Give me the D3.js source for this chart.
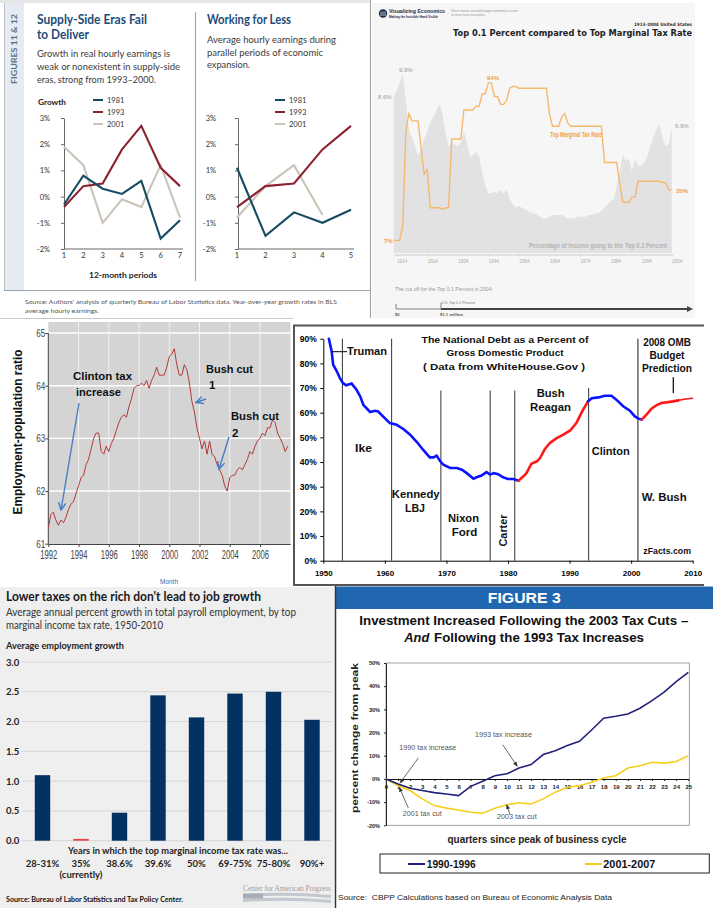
<!DOCTYPE html>
<html lang="en">
<head>
<meta charset="utf-8">
<title>Taxes, wages, jobs and debt</title>
<style>
  body { margin: 0; background: #fff; }
  svg { display: block; }
</style>
<script src="https://cdn.jsdelivr.net/npm/d3@7"></script>
</head>
<body>
<script>
// ---------- data ----------
// figures 11 & 12: real hourly earnings growth (%)
const growthTicks = [-2, -1, 0, 1, 2, 3];
const eraNames = ["1981", "1993", "2001"];
const periods11 = [1, 2, 3, 4, 5, 6, 7];
const earn11_1981 = [-0.3, 0.8, 0.3, 0.1, 0.6, -1.6, -0.9];
const earn11_1993 = [-0.4, 0.4, 0.5, 1.8, 2.7, 1.1, 0.4];
const earn11_2001 = [1.9, 1.2, -1.0, -0.1, -0.4, 1.2, -0.8];
const periods12 = [1, 2, 3, 4, 5];
const earn12_1981 = [1.1, -1.5, -0.6, -1.0, -0.5];
const earn12_1993 = [-0.4, 0.4, 0.5, 1.8, 2.7];
const earn12_2001 = [-0.8, 0.4, 1.2, -0.7];

// top 0.1 percent income share vs top marginal rate, 1913-2004
const shareYears = d3.range(1913, 2005);
const shareValues = [
  8.6, 9.0, 9.4, 9.9, 8.5, 6.8, 6.4,
  5.9, 5.4, 5.7, 6.3, 6.7, 7.2, 7.5, 7.9, 8.2, 7.7,
  6.6, 5.9, 6.1, 6.0, 5.9, 6.1, 6.7, 6.1, 5.3, 5.4,
  5.6, 5.3, 4.4, 3.7, 3.3, 3.3, 3.4, 3.3, 3.5, 3.3,
  3.5, 3.0, 2.7, 2.5, 2.6, 2.5, 2.4, 2.3, 2.2, 2.2,
  2.1, 2.0, 1.9, 1.9, 2.0, 2.1, 2.1, 2.1, 2.1, 2.0,
  1.9, 1.9, 1.9, 2.0, 2.0, 2.0, 2.0, 2.1, 2.1, 2.2,
  2.2, 2.3, 2.5, 2.7, 2.9, 2.9, 3.7, 4.5, 5.4, 5.1,
  5.2, 4.5, 5.2, 4.8, 4.8, 5.0, 5.3, 5.9, 6.4, 6.8,
  7.1, 6.4, 5.9, 6.0, 6.9
];
const taxYears = d3.range(1913, 2005);
const taxRates = [
  7, 7, 7, 15, 67, 77, 73,
  73, 73, 58, 43.5, 46, 25, 25, 25, 25, 24,
  25, 25, 63, 63, 63, 63, 79, 79, 79, 79,
  81.1, 81, 88, 88, 94, 94, 86.45, 86.45, 82.13, 82.13,
  84.36, 91, 92, 92, 91, 91, 91, 91, 91, 91,
  91, 91, 91, 91, 77, 70, 70, 70, 75.25, 77,
  71.75, 70, 70, 70, 70, 70, 70, 70, 70, 70,
  70, 70, 50, 50, 50, 50, 50, 38.5, 28, 28,
  28, 31, 31, 39.6, 39.6, 39.6, 39.6, 39.6, 39.6, 39.6,
  39.6, 39.1, 38.6, 35, 35
];
const decadeTicks = [1914, 1924, 1934, 1944, 1954, 1964, 1974, 1984, 1994, 2004];

// employment-population ratio, every two months from Jan 1992
const empStartYear = 1992;
const empValues = [
  61.3, 61.55, 61.6, 61.45, 61.35, 61.45,
  61.4, 61.5, 61.65, 61.75, 61.8, 61.95,
  62.1, 62.25, 62.3, 62.5, 62.6, 62.8,
  63.0, 63.1, 63.1, 62.75, 62.7, 62.85,
  62.75, 62.9, 63.0, 63.15, 63.3, 63.4,
  63.45, 63.4, 63.6, 63.75, 63.95, 64.0,
  64.0, 64.05, 64.0, 64.1, 63.95, 64.1,
  64.2, 64.35, 64.2, 64.2, 64.2, 64.35,
  64.55, 64.6, 64.7, 64.4, 64.2, 64.2,
  64.4, 64.3, 64.05, 63.7, 63.5, 63.2,
  63.0, 62.8, 62.95, 62.7, 62.95, 62.7,
  62.65, 62.5, 62.4, 62.3, 62.1, 62.0,
  62.25, 62.3, 62.3, 62.4, 62.45, 62.4,
  62.5, 62.6, 62.75, 62.7, 62.85, 62.95,
  63.0, 63.1, 63.05, 63.2, 63.2, 63.35,
  63.3, 63.1, 63.0, 62.9, 62.75, 62.85
];
const empYearTicks = [1992, 1994, 1996, 1998, 2000, 2002, 2004, 2006];
const empRatioTicks = [61, 62, 63, 64, 65];

// national debt as % of GDP
const debtYears = [1950.9, 1951.35, 1951.6, 1952.2, 1952.7, 1953.2, 1953.7, 1954.6, 1955.4, 1956,
  1956.5, 1957.6, 1958.4, 1958.9, 1959.7, 1960.8, 1961.9, 1963, 1964.1, 1965.2, 1966.2, 1967.3,
  1967.9, 1968.4, 1969, 1969.5, 1970.6, 1971.7, 1972.5, 1973.3, 1974.4, 1974.9, 1975.7, 1976.5,
  1977.1, 1977.7, 1978.4, 1979.2, 1980, 1980.9, 1981.7, 1982.5, 1983, 1983.8, 1984.7, 1985.2,
  1986, 1986.8, 1987.9, 1989, 1990.1, 1991.1, 1991.7, 1992.2, 1993, 1993.6, 1994.7, 1995.7,
  1996.8, 1997.6, 1998.7, 1999.8, 2000.6, 2001.2, 2001.7, 2002.5, 2003.3, 2004.1, 2004.9, 2006,
  2006.8, 2007.7, 2008.7, 2010];
const debtValues = [90, 85, 79.5, 76.8, 74, 72, 71.1, 71.8, 69.3, 66.6,
  63.2, 60.3, 60.8, 60.5, 58.5, 55.8, 55.1, 53.4, 51.1, 48.1, 45, 41.9,
  41.9, 42.6, 40.3, 38.9, 37.6, 37.6, 36.9, 35.5, 33.2, 33.8, 34.5, 35.9,
  34.9, 35.5, 35.1, 33.8, 33.1, 33.1, 32.4, 34.2, 35.5, 39.3, 40.3, 41.6,
  45.3, 47.7, 49.7, 51.1, 52.8, 55.8, 58.8, 61.2, 64.6, 65.9, 66.2, 66.9,
  66.9, 65.3, 62.6, 60.8, 58.5, 57.6, 57.2, 59.2, 61.6, 63, 63.9, 64.3,
  64.6, 65, 65.5, 65.9];
const termYears = [1953.1, 1961.1, 1969.1, 1977.1, 1981.1, 1993.1, 2001.1];
const partyStarts = [1950, 1981.7, 1993, 2001.7, 2007.7];
const partyEnds = [1981.7, 1993, 2001.7, 2007.7, 2010];
const partyNames = ["D", "R", "D", "R", "OMB"];
const debtTicks = [0, 10, 20, 30, 40, 50, 60, 70, 80, 90];
const debtYearTicks = [1950, 1960, 1970, 1980, 1990, 2000, 2010];

// job growth by top marginal tax rate
const taxBrackets = ["28-31%", "35%", "38.6%", "39.6%", "50%", "69-75%", "75-80%", "90%+"];
const jobGrowth = [1.1, 0.03, 0.47, 2.44, 2.07, 2.47, 2.5, 2.03];
const jobTicks = [0, 0.5, 1, 1.5, 2, 2.5, 3];

// investment, % change from business-cycle peak
const quarters = d3.range(0, 26);
const invest1990 = [0, -2.2, -4, -5, -5.9, -6.5, -7.2, -3.2, -1.0, 1.4, 2.2, 4.7, 6.2,
  10.5, 12.2, 14.4, 16.2, 21.1, 26.2, 27, 28, 30.5, 33.8, 37.4, 42, 46];
const invest2001 = [0, -2.9, -5, -8.6, -11.5, -12.6, -13.4, -14.4, -14.8, -12.6, -11.1, -10.3, -10.8,
  -8.6, -5.7, -3.6, -2.9, -1.4, 0.4, 1.4, 4.7, 5.7, 7.2, 6.8, 7.5, 10];
const investTicks = [-20, -10, 0, 10, 20, 30, 40, 50];

// ---------- helpers ----------
const sans = "'Liberation Sans', Arial, sans-serif";
const narrow = "'Liberation Sans Narrow', 'Liberation Sans', sans-serif";
const human = "Lato, 'Open Sans', sans-serif";
const verd = "'DejaVu Sans', Verdana, sans-serif";
const serif = "'Liberation Serif', 'DejaVu Serif', serif";

const svg = d3.select("body").append("svg").attr("width", 713).attr("height", 908);
svg.append("rect").attr("width", 713).attr("height", 908).attr("fill", "#fff");
const defs = svg.append("defs");

function marker(id, color, size, filled) {
  defs.append("marker").attr("id", id).attr("viewBox", "0 0 10 10")
    .attr("refX", 9).attr("refY", 5).attr("markerWidth", size).attr("markerHeight", size)
    .attr("markerUnits", "userSpaceOnUse").attr("orient", "auto")
    .append("path").attr("d", filled ? "M0,1 L10,5 L0,9 Z" : "M1,1 L9,5 L1,9")
    .attr("fill", filled ? color : "none").attr("stroke", filled ? "none" : color)
    .attr("stroke-width", 1.7);
}
marker("blueArrow", "#4a7fc4", 9, false);
marker("grayArrow", "#333", 5, true);

function label(g, s, x, y, o = {}) {
  const t = g.append("text").attr("x", x).attr("y", y).text(s)
    .attr("font-family", o.font || sans).attr("font-size", o.size || 10)
    .attr("font-weight", o.weight || "normal").attr("fill", o.fill || "#222")
    .attr("text-anchor", o.anchor || "start");
  if (o.w) t.attr("textLength", o.w).attr("lengthAdjust", "spacingAndGlyphs");
  if (o.rotate) t.attr("transform", `rotate(${o.rotate},${x},${y})`);
  if (o.italic) t.attr("font-style", "italic");
  return t;
}

function line(g, x1, y1, x2, y2, color, width) {
  return g.append("line").attr("x1", x1).attr("y1", y1).attr("x2", x2).attr("y2", y2)
    .attr("stroke", color).attr("stroke-width", width || 1);
}

function styleAxis(g, o) {
  g.attr("font-family", o.font).attr("font-size", o.size).attr("font-weight", o.weight || "normal");
  g.select(".domain").attr("stroke", o.line || "#000");
  g.selectAll(".tick line").attr("stroke", o.line || "#000");
  g.selectAll("text").attr("fill", o.fill || "#000");
  if (o.w) g.selectAll("text").attr("textLength", o.w).attr("lengthAdjust", "spacingAndGlyphs");
}

// ---------- panel 1: figures 11 & 12 ----------
const p1 = svg.append("g");
p1.append("rect").attr("x", 0).attr("y", 0).attr("width", 371).attr("height", 3).attr("fill", "#e6e6e6");
p1.append("rect").attr("x", 5).attr("y", 3).attr("width", 19).attr("height", 287).attr("fill", "#e6ebf1");
line(p1, 4.5, 3, 4.5, 290, "#b9c0c8");
line(p1, 4, 290.5, 371, 290.5, "#9aa4ad");
line(p1, 370.5, 0, 370.5, 318, "#a0a0a0");
line(p1, 0, 318.5, 293, 318.5, "#c8c8c8");
line(p1, 195.5, 12, 195.5, 281, "#a8a8a8", 1.2);
label(p1, "FIGURES 11 & 12", 16.5, 49, { font: human, size: 7, weight: "bold", fill: "#56718c", anchor: "middle", rotate: -90, w: 70 });

const titleBlue = "#1d4d78";
label(p1, "Supply-Side Eras Fail", 37, 24, { font: human, size: 12.5, weight: "bold", fill: titleBlue, w: 110 });
label(p1, "to Deliver", 37, 39, { font: human, size: 12.5, weight: "bold", fill: titleBlue, w: 52 });
label(p1, "Growth in real hourly earnings is", 37, 57, { font: human, size: 9.5, fill: "#3a3a3a", w: 133 });
label(p1, "weak or nonexistent in supply-side", 37, 70, { font: human, size: 9.5, fill: "#3a3a3a", w: 143 });
label(p1, "eras, strong from 1993\u20132000.", 37, 83, { font: human, size: 9.5, fill: "#3a3a3a", w: 119 });
label(p1, "Working for Less", 207, 24, { font: human, size: 12.5, weight: "bold", fill: titleBlue, w: 84 });
label(p1, "Average hourly earnings during", 207, 43, { font: human, size: 9.5, fill: "#3a3a3a", w: 129 });
label(p1, "parallel periods of economic", 207, 56, { font: human, size: 9.5, fill: "#3a3a3a", w: 116 });
label(p1, "expansion.", 207, 68, { font: human, size: 9.5, fill: "#3a3a3a", w: 43 });
label(p1, "Growth", 38, 105, { font: human, size: 7.5, weight: "bold", fill: "#222", w: 28 });
label(p1, "12-month periods", 89, 278, { font: human, size: 8, weight: "bold", fill: "#222", w: 68 });
label(p1, "Source: Authors\u2019 analysis of quarterly Bureau of Labor Statistics data. Year-over-year growth rates in BLS",
  25, 304, { font: human, size: 6.5, fill: "#555", w: 312 });
label(p1, "average hourly earnings.", 25, 313, { font: human, size: 6.5, fill: "#555", w: 74 });

const eraColors = ["#174b64", "#8c2331", "#cbc4b9"];

function earnChart(periods, series, xRange, axisX, labelRight, legendX) {
  const g = p1.append("g");
  const x = d3.scaleLinear().domain([1, periods[periods.length - 1]]).range(xRange);
  const y = d3.scaleLinear().domain([-2, 3]).range([249, 118]);
  const ya = g.append("g").attr("transform", `translate(${axisX},0)`)
    .call(d3.axisLeft(y).tickValues(growthTicks).tickSize(3).tickSizeOuter(0)
      .tickPadding(axisX - labelRight - 3).tickFormat(d => d + "%"));
  styleAxis(ya, { font: human, size: 7.5, line: "#666", fill: "#333" });
  line(g, axisX, y(-2), xRange[1] + 3, y(-2), "#666");
  g.selectAll(null).data(periods).enter().append("text")
    .attr("x", d => x(d)).attr("y", 258).attr("text-anchor", "middle")
    .attr("font-family", human).attr("font-size", 7.5).attr("fill", "#333").text(d => d);
  // draw the pale series first so the dark ones sit on top
  [2, 1, 0].forEach(i => {
    g.append("path").datum(series[i])
      .attr("d", d3.line().x((d, j) => x(periods[j])).y(d => y(d)))
      .attr("fill", "none").attr("stroke", eraColors[i]).attr("stroke-width", 2.1)
      .attr("stroke-linejoin", "miter");
  });
  eraNames.forEach((n, i) => {
    line(g, legendX, 100 + i * 12, legendX + 10, 100 + i * 12, eraColors[i], 2);
    label(g, n, legendX + 14, 103 + i * 12, { font: human, size: 7.5, fill: "#333" });
  });
}
earnChart(periods11, [earn11_1981, earn11_1993, earn11_2001], [64, 180], 64, 50, 93);
earnChart(periods12, [earn12_1981, earn12_1993, earn12_2001], [237, 351], 238, 216, 275);

// ---------- panel 2: top 0.1 percent vs top marginal tax rate ----------
const p2 = svg.append("g");
p2.append("rect").attr("x", 372).attr("y", 3).attr("width", 323).attr("height", 315).attr("fill", "#f6f6f6");
p2.append("circle").attr("cx", 383).attr("cy", 13.5).attr("r", 4.2).attr("fill", "#1d2b4c");
[381, 383, 385].forEach(cx => line(p2, cx, 11.5, cx, 16, "#fff", 0.7));
label(p2, "Visualizing Economics", 389, 13, { size: 5.5, weight: "bold", fill: "#1d2b4c", w: 56 });
label(p2, "Making the Invisible Hand Visible", 389, 17.5, { size: 3.6, weight: "bold", fill: "#1d2b4c", w: 49 });
label(p2, "Visit www.visualizingeconomics.com", 451, 12, { size: 4, fill: "#999", w: 67 });
label(p2, "to view more examples", 451, 16.3, { size: 4, fill: "#999", w: 34 });
label(p2, "1913-2004 United States", 692, 25.5, { font: verd, size: 4.5, weight: "bold", fill: "#333", anchor: "end", w: 58 });
label(p2, "Top 0.1 Percent compared to Top Marginal Tax Rate", 692, 36,
  { font: verd, size: 9, weight: "bold", fill: "#222", anchor: "end", w: 239 });

const xT = d3.scaleLinear().domain([1913, 2004]).range([393.6, 671.7]);
const yShare = d3.scaleLinear().domain([0, 10]).range([253, 72]);
const yRate = d3.scaleLinear().domain([0, 100]).range([253, 72]);
p2.append("path").datum(shareValues)
  .attr("d", d3.area().x((d, i) => xT(shareYears[i])).y0(yShare(0)).y1(d => yShare(d)))
  .attr("fill", "#e2e2e2");
p2.append("path").datum(taxRates)
  .attr("d", d3.line().x((d, i) => xT(taxYears[i])).y(d => yRate(d)))
  .attr("fill", "none").attr("stroke", "#f7b86e").attr("stroke-width", 1.4);

const xTa = p2.append("g").attr("transform", "translate(0,254.5)")
  .call(d3.axisBottom(xT).tickValues(decadeTicks).tickSize(2).tickSizeOuter(0).tickPadding(3).tickFormat(d3.format("d")));
styleAxis(xTa, { font: sans, size: 4.5, line: "#ccc", fill: "#aaa" });
xTa.selectAll("text").attr("text-anchor", "start");

label(p2, "9.9%", 399, 71.7, { font: narrow, size: 6, fill: "#999" });
label(p2, "8.6%", 378, 99, { font: narrow, size: 6, fill: "#999" });
label(p2, "6.9%", 675, 128.3, { font: narrow, size: 6, fill: "#999" });
label(p2, "94%", 487, 80, { font: narrow, size: 6, weight: "bold", fill: "#f2a040" });
label(p2, "7%", 384, 243.3, { font: narrow, size: 6, weight: "bold", fill: "#f2a040" });
label(p2, "35%", 676, 193.3, { font: narrow, size: 6, weight: "bold", fill: "#f2a040" });
label(p2, "Top Marginal Tax Rate", 550, 137, { font: narrow, size: 6.5, weight: "bold", fill: "#f2a040", w: 52 });
label(p2, "Percentage of Income going to the Top 0.1 Percent", 667, 248,
  { font: narrow, size: 7.5, weight: "bold", fill: "#b3b3b3", anchor: "end", w: 138 });

label(p2, "The cut off for the Top 0.1 Percent in 2004:", 395, 291, { size: 5, fill: "#999", w: 98 });
const xCut = d3.scaleLinear().domain([0, 1.1]).range([396, 441]);
line(p2, xCut(0), 309, xCut(1.1), 309, "#666", 0.8);
line(p2, xCut(1.1), 309, 689, 309, "#444", 2.2);
p2.append("path").attr("d", "M687,306 L693,309 L687,312 Z").attr("fill", "#444");
line(p2, xCut(0), 304, xCut(0), 309, "#666", 0.8);
line(p2, xCut(1.1), 303, xCut(1.1), 309, "#666", 0.8);
label(p2, "U.S. Top 0.1 Percent", 441, 304, { size: 3.8, fill: "#777", w: 34 });
label(p2, "$0", 395, 316, { size: 4, weight: "bold", fill: "#555" });
label(p2, "$1.1 million", 440, 316, { size: 4, weight: "bold", fill: "#555", w: 23 });

// ---------- panel 3: employment-population ratio ----------
const p3 = svg.append("g");
const xE = d3.scaleLinear().domain([1992, 2008]).range([48.3, 290.2]);
const yE = d3.scaleLinear().domain([61, 65]).range([543.7, 333]);
p3.append("rect").attr("x", xE(1992)).attr("y", 322).attr("width", 290.5 - xE(1992)).attr("height", 222)
  .attr("fill", "#d4d4d4");
empRatioTicks.slice(1).forEach(v => line(p3, xE(1992), yE(v), 290.5, yE(v), "#fff", 1.4));
empYearTicks.slice(1).forEach(v => line(p3, xE(v), 322, xE(v), 544, "#f4f4f4", 0.9));

const yEa = p3.append("g").attr("transform", `translate(${xE(1992)},0)`)
  .call(d3.axisLeft(yE).tickValues(empRatioTicks).tickSize(3).tickSizeOuter(0).tickPadding(0).tickFormat(d3.format("d")));
yEa.select(".domain").attr("d", `M0,${yE(65)}V544`);
styleAxis(yEa, { font: narrow, size: 10.5, line: "#444", fill: "#444", w: 9 });
const xEa = p3.append("g").attr("transform", "translate(0,544)")
  .call(d3.axisBottom(xE).tickValues(empYearTicks).tickSize(3).tickSizeOuter(0).tickPadding(3).tickFormat(d3.format("d")));
styleAxis(xEa, { font: narrow, size: 12.5, line: "#444", fill: "#444", w: 17 });

p3.append("path").datum(empValues)
  .attr("d", d3.line().x((d, i) => xE(empStartYear + i / 6)).y(d => yE(d)))
  .attr("fill", "none").attr("stroke", "#b03a3a").attr("stroke-width", 1);

label(p3, "Employment-population ratio", 21.5, 432, { size: 12.5, weight: "bold", fill: "#111", anchor: "middle", rotate: -90, w: 165 });
label(p3, "Month", 160, 584, { font: narrow, size: 8, fill: "#3a6db5", w: 18 });
label(p3, "Clinton tax", 73, 380, { size: 11.5, weight: "bold", fill: "#111", w: 59 });
label(p3, "increase", 76, 396, { size: 11.5, weight: "bold", fill: "#111", w: 45 });
label(p3, "Bush cut", 206, 373, { size: 11.5, weight: "bold", fill: "#111", w: 47 });
label(p3, "1", 209, 389, { size: 11.5, weight: "bold", fill: "#111" });
label(p3, "Bush cut", 231, 420, { size: 11.5, weight: "bold", fill: "#111", w: 48 });
label(p3, "2", 232, 437, { size: 11.5, weight: "bold", fill: "#111" });
line(p3, 79, 403, 61, 510, "#4a7fc4", 1.4).attr("marker-end", "url(#blueArrow)");
line(p3, 206, 399, 196, 402.5, "#4a7fc4", 1.4).attr("marker-end", "url(#blueArrow)");
line(p3, 229, 437, 219, 469, "#4a7fc4", 1.4).attr("marker-end", "url(#blueArrow)");

// ---------- panel 4: national debt ----------
const p4 = svg.append("g");
const xD = d3.scaleLinear().domain([1950, 2010]).range([323.3, 692.7]);
const yD = d3.scaleLinear().domain([0, 90]).range([560.7, 338.7]);
line(p4, 293, 325.5, 704, 325.5, "#555", 2);
line(p4, 294, 325, 294, 586, "#555", 2);
line(p4, 293, 585, 704, 585, "#555", 2);

// term lines under the title stop short of the top
const termTops = [90, 90, 69, 69, 69, 70, 90];
termYears.forEach((t, i) => {
  const last = i === termYears.length - 1;
  line(p4, xD(t), yD(termTops[i]), xD(t), yD(0), last ? "#666" : "#333", last ? 1.5 : 1);
});

const yDa = p4.append("g").attr("transform", `translate(${xD(1950)},0)`)
  .call(d3.axisLeft(yD).tickValues(debtTicks).tickSize(3).tickSizeOuter(0).tickPadding(3.6).tickFormat(d => d + "%"));
styleAxis(yDa, { font: sans, size: 8.5, weight: "bold", line: "#000", fill: "#000" });
const xDa = p4.append("g").attr("transform", `translate(0,${yD(0)})`)
  .call(d3.axisBottom(xD).tickValues(debtYearTicks).tickSize(3).tickSizeOuter(0).tickPadding(7).tickFormat(d3.format("d")));
styleAxis(xDa, { font: sans, size: 8, weight: "bold", line: "#000", fill: "#000" });

partyNames.forEach((p, k) => {
  const pts = debtYears.map((yr, i) => [yr, debtValues[i]])
    .filter(d => d[0] >= partyStarts[k] && d[0] <= partyEnds[k]);
  p4.append("path").datum(pts)
    .attr("d", d3.line().x(d => xD(d[0])).y(d => yD(d[1])))
    .attr("fill", "none").attr("stroke", p === "D" ? "#0a14ff" : "#ff1a1a")
    .attr("stroke-width", p === "OMB" ? 1.6 : 2.6)
    .attr("stroke-dasharray", p === "OMB" ? "1.5,1" : null)
    .attr("stroke-linecap", "round");
});

label(p4, "The National Debt as a Percent of", 505, 342.5, { size: 9.5, weight: "bold", fill: "#111", anchor: "middle", w: 167 });
label(p4, "Gross Domestic Product", 505, 355.5, { size: 9.5, weight: "bold", fill: "#111", anchor: "middle", w: 117 });
label(p4, "( Data from WhiteHouse.Gov )", 504, 369.5, { size: 9.5, weight: "bold", fill: "#111", anchor: "middle", w: 162 });
line(p4, 332, 351.7, 347, 351.7, "#000", 1);
const presOpts = { size: 10.5, weight: "bold", fill: "#111" };
label(p4, "Truman", 347, 355, { ...presOpts, w: 40 });
label(p4, "Ike", 355, 452, { ...presOpts, w: 17 });
label(p4, "Kennedy", 391.7, 498, { ...presOpts, w: 48 });
label(p4, "LBJ", 405, 512.3, { ...presOpts, w: 20 });
label(p4, "Nixon", 448, 522, { ...presOpts, w: 31 });
label(p4, "Ford", 451.7, 536.3, { ...presOpts, w: 25.6 });
label(p4, "Carter", 507, 530.5, { ...presOpts, anchor: "middle", rotate: -90, w: 32 });
label(p4, "Bush", 536.7, 397.3, { ...presOpts, w: 28 });
label(p4, "Reagan", 530, 411.3, { ...presOpts, w: 41 });
label(p4, "Clinton", 591.7, 454.7, { ...presOpts, w: 38 });
label(p4, "W. Bush", 641.7, 500.7, { ...presOpts, w: 45 });
label(p4, "2008 OMB", 667, 346.3, { ...presOpts, anchor: "middle", w: 47.7 });
label(p4, "Budget", 667, 358.7, { ...presOpts, anchor: "middle", w: 35 });
label(p4, "Prediction", 667, 372, { ...presOpts, anchor: "middle", w: 50 });
line(p4, 673.3, 377.3, 673.3, 393, "#000", 1.2);
label(p4, "zFacts.com", 643.3, 554, { size: 8.5, weight: "bold", fill: "#111", w: 47.7 });

// ---------- panel 5: job growth by top tax rate ----------
const p5 = svg.append("g");
p5.append("rect").attr("x", 0).attr("y", 587).attr("width", 334).attr("height", 321).attr("fill", "#efefef");
label(p5, "Lower taxes on the rich don't lead to job growth", 6, 600.7, { font: human, size: 13, weight: "bold", fill: "#1a1a1a", w: 255 });
label(p5, "Average annual percent growth in total payroll employment, by top", 6, 616.3, { font: human, size: 10.5, fill: "#333", w: 290 });
label(p5, "marginal income tax rate, 1950-2010", 6, 628.7, { font: human, size: 10.5, fill: "#333", w: 157 });
label(p5, "Average employment growth", 6, 649, { font: human, size: 9.5, weight: "bold", fill: "#222", w: 118 });

const yB = d3.scaleLinear().domain([0, 3]).range([840.7, 662]);
const xB = d3.scaleBand().domain(taxBrackets).range([23.25, 331.25]).paddingInner(0.6).paddingOuter(0.3);
jobTicks.forEach(v => {
  line(p5, 22, yB(v), 331.7, yB(v), "#d6d6d6", 1);
  label(p5, v.toFixed(1), 6, yB(v) + 3.5, { font: human, size: 9.5, weight: "bold", fill: "#222" });
});
p5.selectAll(null).data(jobGrowth).enter().append("rect")
  .attr("x", (d, i) => xB(taxBrackets[i])).attr("width", xB.bandwidth())
  .attr("y", d => yB(d)).attr("height", d => yB(0) - yB(d))
  .attr("fill", (d, i) => taxBrackets[i] === "35%" ? "#e8404a" : "#023162");
label(p5, "Years in which the top marginal income tax rate was...", 178, 854, { font: human, size: 9.5, weight: "bold", fill: "#222", anchor: "middle", w: 220 });
taxBrackets.forEach(b => {
  label(p5, b, xB(b) + xB.bandwidth() / 2, 867.3, { font: human, size: 9.5, weight: "bold", fill: "#222", anchor: "middle" });
});
label(p5, "(currently)", xB("35%") + xB.bandwidth() / 2, 877.5, { font: human, size: 9.5, weight: "bold", fill: "#222", anchor: "middle" });
label(p5, "Source: Bureau of Labor Statistics and Tax Policy Center.", 6, 902, { font: human, size: 8, weight: "bold", fill: "#111", w: 177 });
label(p5, "Center for American Progress", 243, 891, { font: serif, size: 7.5, fill: "#9a9a9a", w: 88 });
p5.append("path").attr("d", "M243,894 Q287,891 331,895 L331,898 Q287,894 243,897 Z").attr("fill", "#c3c7ce");
p5.append("path").attr("d", "M243,899 Q287,896 331,900 L331,903 Q287,899 243,902 Z").attr("fill", "#c3c7ce");
p5.append("rect").attr("x", 243).attr("y", 893.5).attr("width", 20).attr("height", 5).attr("fill", "#a7adb8");

// ---------- panel 6: figure 3 investment ----------
const p6 = svg.append("g");
p6.append("rect").attr("x", 335).attr("y", 586.5).attr("width", 378).attr("height", 22.5).attr("fill", "#2067b0");
line(p6, 335.5, 586, 335.5, 908, "#333", 1.5);
label(p6, "FIGURE 3", 524.3, 603, { size: 15.5, weight: "bold", fill: "#fff", anchor: "middle", w: 73 });
label(p6, "Investment Increased Following the 2003 Tax Cuts \u2013", 523.8, 624.7, { size: 12.5, weight: "bold", fill: "#111", anchor: "middle", w: 329 });
label(p6, "And", 404.3, 642.3, { size: 12.5, weight: "bold", fill: "#111", italic: true, w: 25 });
label(p6, "Following the 1993 Tax Increases", 434, 642.3, { size: 12.5, weight: "bold", fill: "#111", w: 210 });

const xQ = d3.scaleLinear().domain([0, 25]).range([386, 688.3]);
const yQ = d3.scaleLinear().domain([-20, 50]).range([825.3, 663]);
p6.append("rect").attr("x", xQ(0)).attr("y", yQ(50)).attr("width", xQ(25) - xQ(0) + 1).attr("height", yQ(-20) - yQ(50))
  .attr("fill", "none").attr("stroke", "#888").attr("stroke-width", 0.8);
const yQa = p6.append("g").attr("transform", `translate(${xQ(0)},0)`)
  .call(d3.axisLeft(yQ).tickValues(investTicks).tickSize(2).tickSizeOuter(0).tickPadding(4).tickFormat(d => d + "%"));
styleAxis(yQa, { font: sans, size: 5.5, weight: "bold", line: "#222", fill: "#222" });
const xQa = p6.append("g").attr("transform", `translate(0,${yQ(0)})`)
  .call(d3.axisBottom(xQ).tickValues(quarters).tickSize(2).tickSizeOuter(0).tickPadding(4).tickFormat(d3.format("d")));
styleAxis(xQa, { font: sans, size: 6, weight: "bold", line: "#111", fill: "#222" });
xQa.select(".domain").attr("stroke-width", 1.1);

p6.append("path").datum(invest2001)
  .attr("d", d3.line().x((d, i) => xQ(quarters[i])).y(d => yQ(d)))
  .attr("fill", "none").attr("stroke", "#f6cf1c").attr("stroke-width", 1.6);
p6.append("path").datum(invest1990)
  .attr("d", d3.line().x((d, i) => xQ(quarters[i])).y(d => yQ(d)))
  .attr("fill", "none").attr("stroke", "#22227e").attr("stroke-width", 1.6);

const noteOpts = { size: 6.3, fill: "#555" };
label(p6, "1990 tax increase", 399.3, 749.7, { ...noteOpts, w: 57 });
label(p6, "1993 tax increase", 475, 737, { ...noteOpts, w: 57 });
label(p6, "2001 tax cut", 402.7, 816.3, { ...noteOpts, w: 39 });
label(p6, "2003 tax cut", 496.7, 818.7, { ...noteOpts, w: 40 });
line(p6, 418.3, 758, 400, 783, "#444", 0.8).attr("marker-end", "url(#grayArrow)");
line(p6, 502.7, 744.7, 517.3, 766.3, "#444", 0.8).attr("marker-end", "url(#grayArrow)");
line(p6, 408.3, 808, 399.3, 787.3, "#444", 0.8).attr("marker-end", "url(#grayArrow)");
line(p6, 510, 814.7, 506.7, 804.7, "#444", 0.8).attr("marker-end", "url(#grayArrow)");

label(p6, "percent change from peak", 358, 738, { size: 9.5, weight: "bold", fill: "#222", anchor: "middle", rotate: -90, w: 150 });
label(p6, "quarters since peak of business cycle", 537, 843, { size: 10.5, weight: "bold", fill: "#222", anchor: "middle", w: 179 });

p6.append("rect").attr("x", 380).attr("y", 854).attr("width", 329.3).attr("height", 19)
  .attr("fill", "#fff").attr("stroke", "#222").attr("stroke-width", 1);
line(p6, 408, 864, 425, 864, "#22227e", 2);
label(p6, "1990-1996", 426.7, 867.8, { size: 10.5, weight: "bold", fill: "#111", w: 49 });
line(p6, 585, 864, 601.7, 864, "#f6cf1c", 2);
label(p6, "2001-2007", 603.3, 867.8, { size: 10.5, weight: "bold", fill: "#111", w: 52 });
label(p6, "Source:\u00a0\u00a0CBPP Calculations based on Bureau of Economic Analysis Data", 338, 899.7, { size: 7.5, fill: "#222", w: 274 });
</script>
</body>
</html>
